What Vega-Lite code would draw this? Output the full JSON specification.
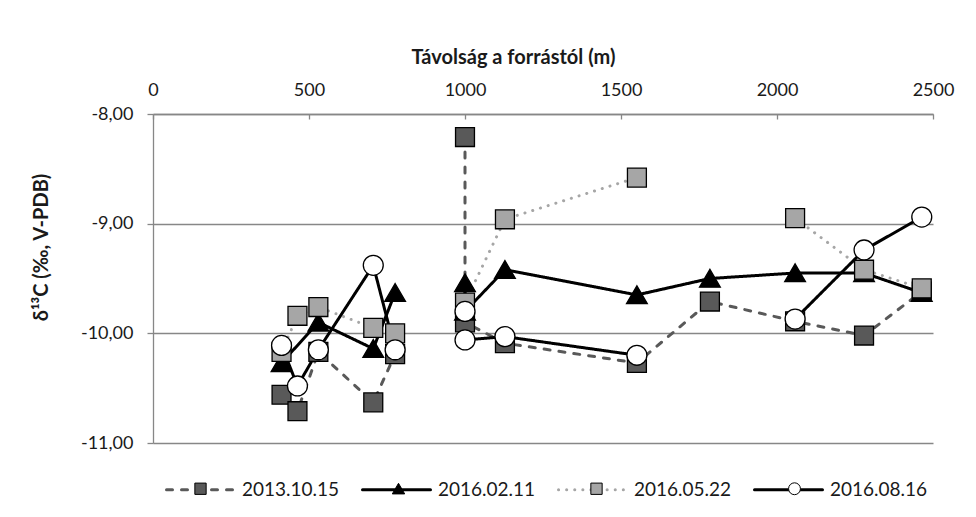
{
  "$schema": "https://vega.github.io/schema/vega-lite/v6.json",
  "width": 780,
  "height": 329,
  "autosize": {"type": "none"},
  "padding": {"left": 153, "top": 114, "right": 43, "bottom": 74},
  "background": "white",
  "config": {
    "font": "Lato",
    "locale": {"number": {"decimal": ",", "thousands": ".", "grouping": [3], "currency": ["", ""], "minus": "-"}},
    "view": {"stroke": null}
  },
  "data": {
    "values": [
      {"s": "2013.10.15", "seg": 1, "i": 1, "d": 412, "v": -10.56},
      {"s": "2013.10.15", "seg": 1, "i": 2, "d": 463, "v": -10.71},
      {"s": "2013.10.15", "seg": 1, "i": 3, "d": 530, "v": -10.17},
      {"s": "2013.10.15", "seg": 1, "i": 4, "d": 706, "v": -10.63},
      {"s": "2013.10.15", "seg": 1, "i": 5, "d": 776, "v": -10.19},
      {"s": "2013.10.15", "seg": 2, "i": 6, "d": 1000, "v": -8.21},
      {"s": "2013.10.15", "seg": 2, "i": 7, "d": 1000, "v": -9.9},
      {"s": "2013.10.15", "seg": 2, "i": 8, "d": 1128, "v": -10.09},
      {"s": "2013.10.15", "seg": 2, "i": 9, "d": 1551, "v": -10.27},
      {"s": "2013.10.15", "seg": 2, "i": 10, "d": 1785, "v": -9.71},
      {"s": "2013.10.15", "seg": 2, "i": 11, "d": 2058, "v": -9.89},
      {"s": "2013.10.15", "seg": 2, "i": 12, "d": 2279, "v": -10.02},
      {"s": "2013.10.15", "seg": 2, "i": 13, "d": 2464, "v": -9.62},

      {"s": "2016.02.11", "seg": 1, "i": 1, "d": 412, "v": -10.27},
      {"s": "2016.02.11", "seg": 1, "i": 3, "d": 530, "v": -9.9},
      {"s": "2016.02.11", "seg": 1, "i": 4, "d": 706, "v": -10.14},
      {"s": "2016.02.11", "seg": 1, "i": 5, "d": 776, "v": -9.63},
      {"s": "2016.02.11", "seg": 2, "i": 6, "d": 1000, "v": -9.54},
      {"s": "2016.02.11", "seg": 2, "i": 7, "d": 1000, "v": -9.8},
      {"s": "2016.02.11", "seg": 2, "i": 8, "d": 1128, "v": -9.42},
      {"s": "2016.02.11", "seg": 2, "i": 9, "d": 1551, "v": -9.65},
      {"s": "2016.02.11", "seg": 2, "i": 10, "d": 1785, "v": -9.5},
      {"s": "2016.02.11", "seg": 2, "i": 11, "d": 2058, "v": -9.45},
      {"s": "2016.02.11", "seg": 2, "i": 12, "d": 2279, "v": -9.45},
      {"s": "2016.02.11", "seg": 2, "i": 13, "d": 2464, "v": -9.63},

      {"s": "2016.05.22", "seg": 1, "i": 1, "d": 412, "v": -10.17},
      {"s": "2016.05.22", "seg": 1, "i": 2, "d": 463, "v": -9.84},
      {"s": "2016.05.22", "seg": 1, "i": 3, "d": 530, "v": -9.76},
      {"s": "2016.05.22", "seg": 1, "i": 4, "d": 706, "v": -9.95},
      {"s": "2016.05.22", "seg": 1, "i": 5, "d": 776, "v": -10.0},
      {"s": "2016.05.22", "seg": 2, "i": 7, "d": 1000, "v": -9.72},
      {"s": "2016.05.22", "seg": 2, "i": 8, "d": 1128, "v": -8.96},
      {"s": "2016.05.22", "seg": 2, "i": 9, "d": 1551, "v": -8.58},
      {"s": "2016.05.22", "seg": 3, "i": 11, "d": 2058, "v": -8.95},
      {"s": "2016.05.22", "seg": 3, "i": 12, "d": 2279, "v": -9.42},
      {"s": "2016.05.22", "seg": 3, "i": 13, "d": 2464, "v": -9.59},

      {"s": "2016.08.16", "seg": 1, "i": 1, "d": 412, "v": -10.11},
      {"s": "2016.08.16", "seg": 1, "i": 2, "d": 463, "v": -10.48},
      {"s": "2016.08.16", "seg": 1, "i": 3, "d": 530, "v": -10.15},
      {"s": "2016.08.16", "seg": 1, "i": 4, "d": 706, "v": -9.38},
      {"s": "2016.08.16", "seg": 1, "i": 5, "d": 776, "v": -10.15},
      {"s": "2016.08.16", "seg": 2, "i": 6, "d": 1000, "v": -9.8},
      {"s": "2016.08.16", "seg": 2, "i": 7, "d": 1000, "v": -10.06},
      {"s": "2016.08.16", "seg": 2, "i": 8, "d": 1128, "v": -10.03},
      {"s": "2016.08.16", "seg": 2, "i": 9, "d": 1551, "v": -10.2},
      {"s": "2016.08.16", "seg": 3, "i": 11, "d": 2058, "v": -9.87},
      {"s": "2016.08.16", "seg": 3, "i": 12, "d": 2279, "v": -9.24},
      {"s": "2016.08.16", "seg": 3, "i": 13, "d": 2464, "v": -8.94}
    ]
  },
  "layer": [
    {
      "mark": {"type": "line", "strokeWidth": 3, "strokeCap": "round", "strokeJoin": "round"},
      "encoding": {
        "x": {
          "field": "d", "type": "quantitative",
          "scale": {"domain": [0, 2500], "nice": false, "zero": false},
          "axis": {
            "orient": "top", "title": "Távolság a forrástól (m)",
            "values": [0, 500, 1000, 1500, 2000, 2500], "format": "d", "labelFlush": false,
            "grid": false, "domainColor": "#878787", "domainWidth": 1.3,
            "tickColor": "#878787", "tickWidth": 1.3, "tickSize": -5,
            "labelPadding": 20, "labelFontSize": 18, "labelColor": "#1a1a1a",
            "titleFontSize": 20, "titleFontWeight": "bold", "titleColor": "#1a1a1a",
            "titleX": 360, "titleY": -57, "titleBaseline": "middle"
          }
        },
        "y": {
          "field": "v", "type": "quantitative",
          "scale": {"domain": [-11, -8], "nice": false, "zero": false},
          "axis": {
            "title": "δ¹³C (‰, V-PDB)",
            "values": [-11, -10, -9, -8], "format": ".2f", "labelFlush": false,
            "grid": true, "gridColor": "#878787", "gridWidth": 1.3,
            "domainColor": "#878787", "domainWidth": 1.3,
            "tickColor": "#878787", "tickWidth": 1.3, "tickSize": 6,
            "labelPadding": 14, "labelFontSize": 18, "labelColor": "#1a1a1a",
            "titleFontSize": 20, "titleFontWeight": "bold", "titleColor": "#1a1a1a",
            "titleX": -102, "titleY": 133
          }
        },
        "stroke": {
          "field": "s", "type": "nominal",
          "scale": {"range": ["#595959", "#000000", "#a6a6a6", "#000000"]},
          "legend": {
            "title": null, "orient": "none", "legendX": 12, "legendY": 340,
            "direction": "horizontal", "columns": 4, "gridAlign": "all", "symbolType": "stroke",
            "symbolSize": 4624, "symbolStrokeWidth": 3, "labelFontSize": 19,
            "labelOffset": 6, "columnPadding": 16, "labelColor": "#1a1a1a", "zindex": 0,
            "encode": {"symbols": {"update": {"strokeCap": {"value": "round"}}}}
          }
        },
        "strokeDash": {
          "field": "s", "type": "nominal",
          "scale": {"range": [[6, 9], [1, 0], [0.1, 8], [1, 0]]}
        },
        "detail": {"field": "seg", "type": "nominal"},
        "order": {"field": "i", "type": "quantitative"}
      }
    },
    {
      "mark": {"type": "point", "filled": true, "stroke": "#000000", "strokeWidth": 1.3, "size": 12996, "opacity": 1},
      "encoding": {
        "x": {"field": "d", "type": "quantitative"},
        "y": {"field": "v", "type": "quantitative"},
        "shape": {
          "field": "s", "type": "nominal",
          "scale": {
            "domain": ["2013.10.15", "2016.02.11", "2016.05.22", "2016.08.16"],
            "range": [
              "M-0.166,-0.166H0.166V0.166H-0.166Z",
              "M0,-0.16L0.182,0.152H-0.182Z",
              "M-0.166,-0.166H0.166V0.166H-0.166Z",
              "M0.175,0A0.175,0.175 0 1,1 -0.175,0A0.175,0.175 0 1,1 0.175,0Z"
            ]
          },
          "legend": {
            "title": null, "orient": "none", "legendX": 12, "legendY": 340,
            "direction": "horizontal", "columns": 4, "gridAlign": "all",
            "symbolSize": 4624, "symbolStrokeWidth": 1,
            "symbolOffset": 1, "symbolOpacity": 1,
            "labelExpr": "''", "labelFontSize": 19, "labelOffset": 111.5, "columnPadding": 16, "zindex": 1
          }
        },
        "fill": {
          "field": "s", "type": "nominal",
          "scale": {"domain": ["2013.10.15", "2016.02.11", "2016.05.22", "2016.08.16"], "range": ["#595959", "#000000", "#a6a6a6", "#ffffff"]}
        }
      }
    }
  ]
}
